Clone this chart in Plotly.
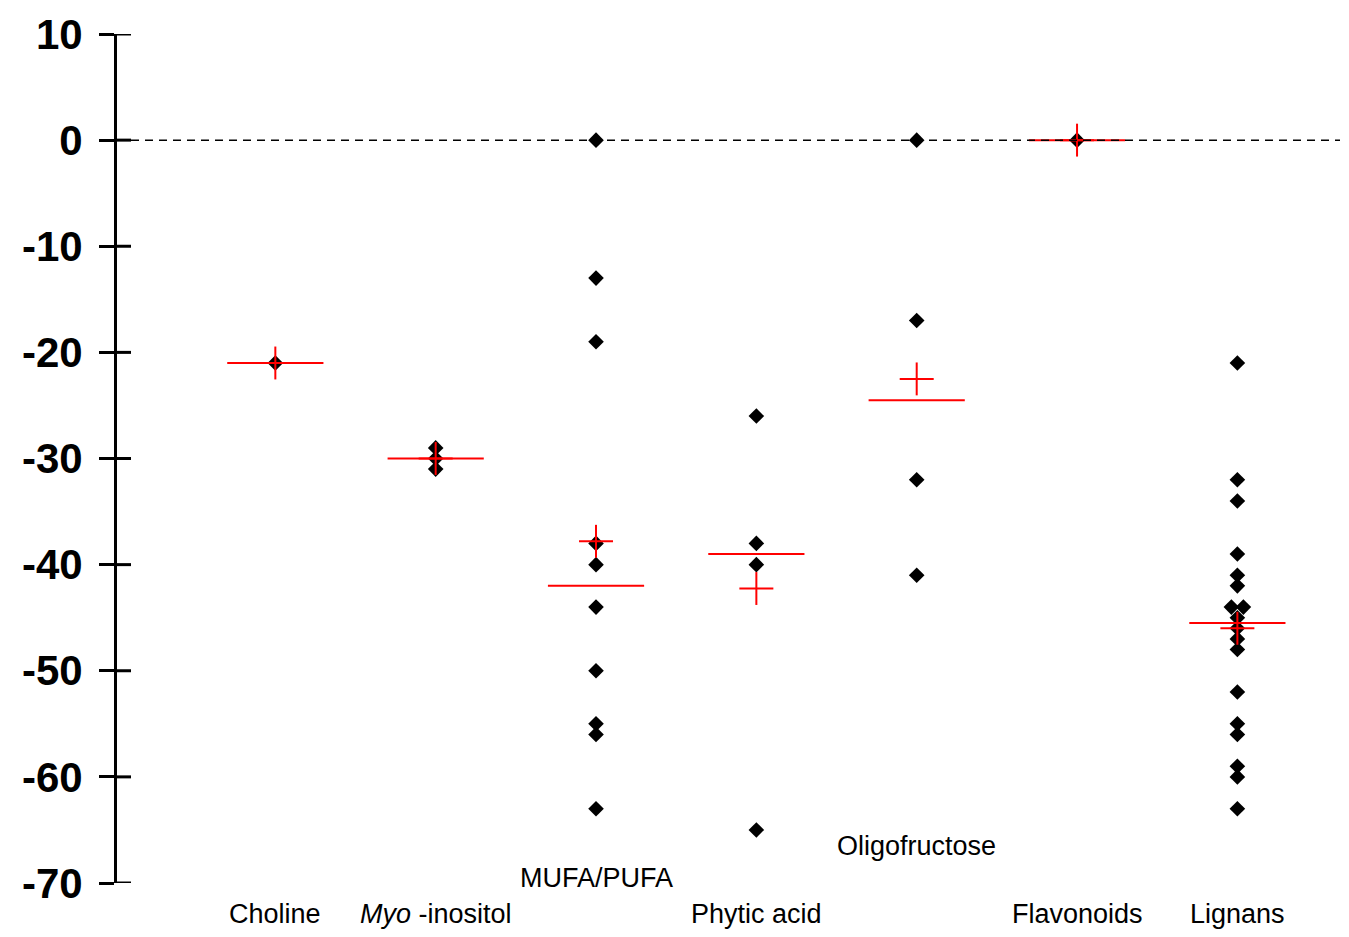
import numpy as np
import plotly.graph_objects as go

# Percentage change per compound group (each value one study)
categories = ["Choline", "<i>Myo</i> -inositol", "MUFA/PUFA", "Phytic acid",
              "Oligofructose", "Flavonoids", "Lignans"]
choline = [-21]
myo_inositol = [-29, -30, -31]
mufa_pufa = [0, -13, -19, -38, -40, -44, -50, -55, -56, -63]
phytic_acid = [-26, -38, -40, -65]
oligofructose = [0, -17, -32, -41]
flavonoids = [0]
lignans = [-21, -32, -34, -39, -41, -42, -44, -44, -45, -46, -47, -48,
           -52, -55, -56, -59, -60, -63]
y_ticks = [10, 0, -10, -20, -30, -40, -50, -60, -70]

groups = [choline, myo_inositol, mufa_pufa, phytic_acid,
          oligofructose, flavonoids, lignans]

Y_MIN, Y_MAX = -70, 10
X_MIN, X_MAX = 0.0125, 7.64
# vertical position (axis units) of the category labels below the plot
label_y = [-72.9, -72.9, -69.5, -72.9, -66.5, -72.9, -72.9]

FONT = "Liberation Sans, Arial, sans-serif"
DODGE = 0.0375      # horizontal spread for identical values
MED_HALF = 0.30     # half width of the median bar
MEAN_HALF_X = 0.106  # half width of the mean cross
MEAN_HALF_Y = 1.55   # half height of the mean cross

fig = go.Figure()

# individual points, identical values spread side by side
px, py = [], []
for i, vals in enumerate(groups, start=1):
    counts = {}
    for v in vals:
        counts[v] = counts.get(v, 0) + 1
    seen = {}
    for v in vals:
        n = counts[v]
        k = seen.get(v, 0)
        seen[v] = k + 1
        px.append(i + (k - (n - 1) / 2) * 2 * DODGE)
        py.append(v)

fig.add_trace(go.Scatter(
    x=px, y=py, mode="markers",
    marker=dict(symbol="diamond", size=12, color="black",
                line=dict(width=0)),
    hoverinfo="y", showlegend=False, cliponaxis=False))

# median bars and mean crosses
lx, ly = [], []
for i, vals in enumerate(groups, start=1):
    med = float(np.median(vals))
    mean = float(np.mean(vals))
    lx += [i - MED_HALF, i + MED_HALF, None]
    ly += [med, med, None]
    lx += [i - MEAN_HALF_X, i + MEAN_HALF_X, None, i, i, None]
    ly += [mean, mean, None, mean - MEAN_HALF_Y, mean + MEAN_HALF_Y, None]

fig.add_trace(go.Scatter(
    x=lx, y=ly, mode="lines", line=dict(color="#ff0000", width=2),
    hoverinfo="skip", showlegend=False, cliponaxis=False))

# category labels (paper coordinates so they may sit below the axis range)
for i, (name, ypos) in enumerate(zip(categories, label_y), start=1):
    fig.add_annotation(x=i, y=(ypos - Y_MIN) / (Y_MAX - Y_MIN),
                       xref="x", yref="paper", text=name,
                       showarrow=False, xanchor="center", yanchor="middle",
                       font=dict(family=FONT, size=27, color="black"))

# inner half of the crossing tick marks
for t in y_ticks:
    fig.add_shape(type="line", xref="x", yref="y", xsizemode="pixel",
                  xanchor=X_MIN, x0=-2, x1=14, y0=t, y1=t,
                  line=dict(color="black", width=3), layer="above")

# dashed zero reference line
fig.add_shape(type="line", xref="paper", yref="y", x0=0, x1=1, y0=0, y1=0,
              line=dict(color="black", width=1.5, dash="8px,6px"),
              layer="above")

fig.update_layout(
    width=1349, height=937,
    margin=dict(l=117, r=9, t=34, b=54),
    paper_bgcolor="white", plot_bgcolor="white",
    showlegend=False,
    xaxis=dict(range=[X_MIN, X_MAX], visible=False, fixedrange=True),
    yaxis=dict(
        range=[Y_MIN, Y_MAX], tickvals=y_ticks,
        ticktext=[str(t) for t in y_ticks],
        showgrid=False, zeroline=False,
        showline=True, linecolor="black", linewidth=3,
        ticks="outside", ticklen=15, tickwidth=3, tickcolor="black",
        ticklabelstandoff=8,
        tickfont=dict(family=FONT, size=42, color="black", weight="bold"),
    ),
)

fig.write_html("out.html")
